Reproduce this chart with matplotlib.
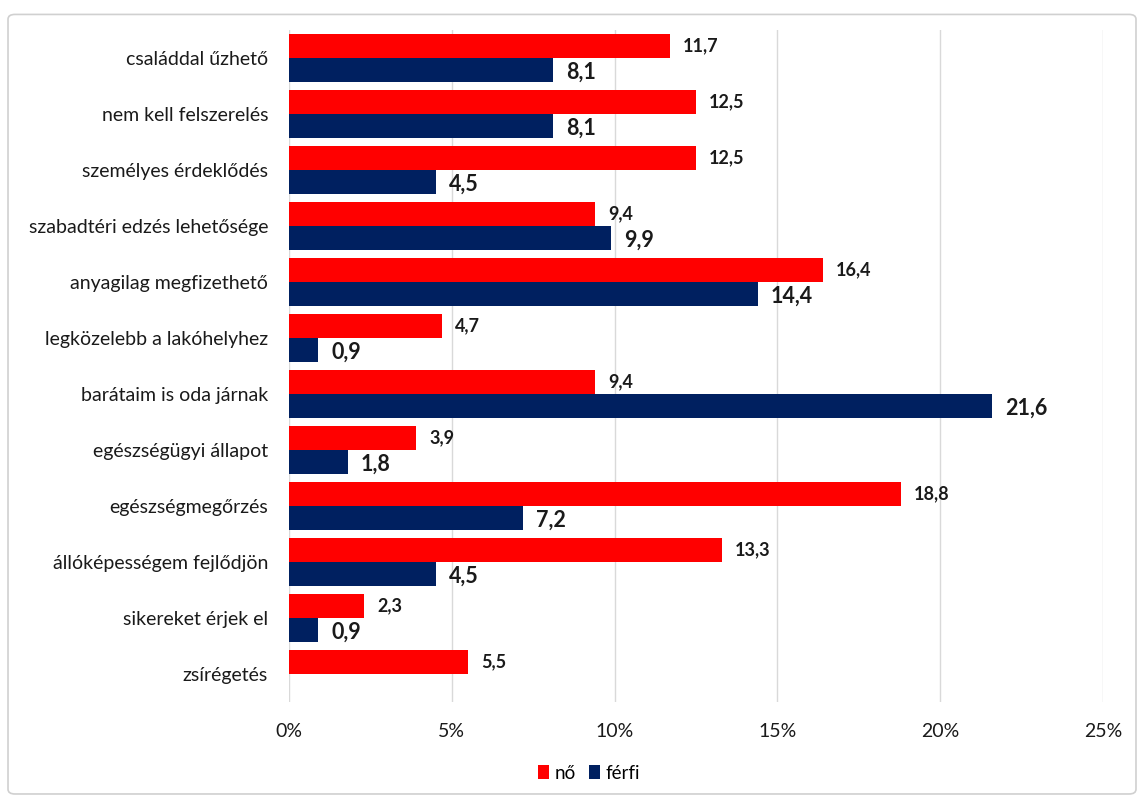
import matplotlib
matplotlib.use("Agg")
import matplotlib.pyplot as plt
from matplotlib.patches import FancyBboxPatch, Patch
import numpy as np

categories = [
    "családdal űzhető",
    "nem kell felszerelés",
    "személyes érdeklődés",
    "szabadtéri edzés lehetősége",
    "anyagilag megfizethető",
    "legközelebb a lakóhelyhez",
    "barátaim is oda járnak",
    "egészségügyi állapot",
    "egészségmegőrzés",
    "állóképességem fejlődjön",
    "sikereket érjek el",
    "zsírégetés",
]
no_values = [11.7, 12.5, 12.5, 9.4, 16.4, 4.7, 9.4, 3.9, 18.8, 13.3, 2.3, 5.5]
ferfi_values = [8.1, 8.1, 4.5, 9.9, 14.4, 0.9, 21.6, 1.8, 7.2, 4.5, 0.9, None]
series_names = ["nő", "férfi"]
x_ticks = [0, 5, 10, 15, 20, 25]

RED = "#FF0000"
NAVY = "#002060"

plt.rcParams["font.family"] = ["Lato", "DejaVu Sans"]

fig = plt.figure(figsize=(11.44, 8.02), dpi=100)
fig.patch.set_facecolor("white")

# outer frame
frame = FancyBboxPatch((0.007, 0.01), 0.986, 0.972,
                       boxstyle="round,pad=0,rounding_size=0.006",
                       transform=fig.transFigure, facecolor="none",
                       edgecolor="#D0D0D0", linewidth=1.2, zorder=-1)
fig.patches.append(frame)

ax = fig.add_axes([0.2526, 0.1247, 0.7116, 0.8379])
ax.set_facecolor("none")

n = len(categories)
y = np.arange(n)
h = 0.42

ax.barh(y - h / 2, no_values, height=h, color=RED, label=series_names[0], zorder=3)
f_vals = [v if v is not None else 0 for v in ferfi_values]
ax.barh(y + h / 2, f_vals, height=h, color=NAVY, label=series_names[1], zorder=3)

for i, v in enumerate(no_values):
    ax.text(v + 0.4, i - h / 2, f"{v:.1f}".replace(".", ","), va="center", ha="left",
            fontsize=13, fontweight="bold", color="#1a1a1a")
for i, v in enumerate(ferfi_values):
    if v is None:
        continue
    ax.text(v + 0.4, i + h / 2 + 0.05, f"{v:.1f}".replace(".", ","), va="center", ha="left",
            fontsize=15.5, fontweight="bold", color="#1a1a1a")

ax.set_ylim(n - 0.5, -0.5)
ax.set_xlim(0, 25)
ax.set_yticks(y)
ax.set_yticklabels(categories, fontsize=14, color="#1a1a1a")
ax.set_xticks(x_ticks)
ax.set_xticklabels([f"{t}%" for t in x_ticks], fontsize=14, color="#1a1a1a")
ax.tick_params(axis="both", length=0)
ax.tick_params(axis="x", pad=15)
ax.tick_params(axis="y", pad=15)
ax.grid(axis="x", color="#D9D9D9", linewidth=1, zorder=0)
for s in ax.spines.values():
    s.set_visible(False)

handles = [Patch(facecolor=RED, label=series_names[0]),
           Patch(facecolor=NAVY, label=series_names[1])]
fig.legend(handles=handles, loc="center", bbox_to_anchor=(0.515, 0.036), ncol=2,
           frameon=False, fontsize=13.5, handlelength=0.6, handleheight=0.8,
           handletextpad=0.3, columnspacing=0.7)

fig.savefig("out.png", dpi=100, facecolor="white")
